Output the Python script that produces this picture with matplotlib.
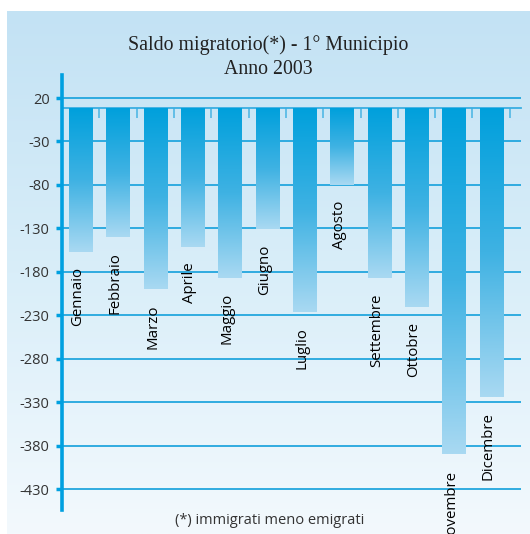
import numpy as np
import matplotlib
matplotlib.use("Agg")
import matplotlib.pyplot as plt
from matplotlib.colors import LinearSegmentedColormap

# ---- data ----
months = ["Gennaio", "Febbraio", "Marzo", "Aprile", "Maggio", "Giugno",
          "Luglio", "Agosto", "Settembre", "Ottobre", "Novembre", "Dicembre"]
values = [-157, -140, -200, -151, -187, -131, -226, -80, -187, -220, -390, -324]
yticks = [20, -30, -80, -130, -180, -230, -280, -330, -380, -430]
title = "Saldo migratorio(*) - 1° Municipio\nAnno 2003"
footnote = "(*) immigrati meno emigrati"
BASE = 8  # category-axis level where bars start

W, H = 530, 534
fig = plt.figure(figsize=(W / 100, H / 100), dpi=100)
fig.patch.set_facecolor("white")

# background panel with vertical gradient
bg = fig.add_axes([7 / W, 0, 1 - 7 / W, 523 / H], zorder=-2)
bg_cmap = LinearSegmentedColormap.from_list("bg", ["#c3e2f4", "#d9eef9", "#f3f9fd"])
bg.imshow(np.linspace(0, 1, 256).reshape(-1, 1), aspect="auto", cmap=bg_cmap,
          extent=(0, 1, 0, 1))
bg.axis("off")

ax = fig.add_axes([62 / W, 1 - 510 / H, (521 - 62) / W, (510 - 75) / H])
ax.patch.set_alpha(0)

ymin, ymax = -454, 46.5
ax.set_ylim(ymin, ymax)
ax.set_xlim(-0.5, 11.8)

x = np.arange(len(months))
heights = [v - BASE for v in values]
bars = ax.bar(x, heights, bottom=BASE, width=0.62, facecolor="none",
              edgecolor="none", zorder=3)

bar_cmap = LinearSegmentedColormap.from_list("bar", ["#00a0dc", "#3fb2e3", "#a9d9f2"])
grad = np.linspace(0, 1, 256).reshape(-1, 1)
for p in bars.patches:
    x0, y0 = p.get_x(), p.get_y()
    w, h = p.get_width(), p.get_height()
    top, bottom = max(y0, y0 + h), min(y0, y0 + h)
    im = ax.imshow(grad, aspect="auto", cmap=bar_cmap,
                   extent=(x0, x0 + w, bottom, top), origin="upper",
                   zorder=3, interpolation="bilinear")
    im.set_clip_path(p)
ax.set_xlim(-0.5, 11.8)
ax.set_ylim(ymin, ymax)

# month labels under bars
for xi, v, name in zip(x, values, months):
    ax.annotate(name, xy=(xi, v), xytext=(-2, -11), textcoords="offset points",
                rotation=90, ha="center", va="top", fontsize=10.8,
                fontfamily="Open Sans", color="black", zorder=4)

# y axis
ax.set_yticks(yticks)
ax.set_yticklabels([str(t) for t in yticks], fontfamily="Open Sans",
                   fontsize=10.5, color="#333333")
ax.tick_params(axis="y", direction="out", length=4, width=2.5,
               color="#00a0e0", pad=5)
ax.yaxis.grid(True, color="#22a6de", lw=1.3, zorder=1)
ax.set_axisbelow(True)

for s in ["top", "right"]:
    ax.spines[s].set_visible(False)
ax.spines["left"].set_color("#00a0e0")
ax.spines["left"].set_linewidth(2.6)
ax.spines["bottom"].set_position(("data", BASE))
ax.spines["bottom"].set_color("#3aaee2")
ax.spines["bottom"].set_linewidth(1.3)
ax.spines["bottom"].set_zorder(1)

ax.set_xticks(np.arange(0.5, 12, 1))
ax.set_xticklabels([])
ax.tick_params(axis="x", direction="out", length=7, width=1.3, color="#5bbbe6")

fig.text(268.5 / W, 1 - 57 / H, title, ha="center", va="center",
         fontfamily="Liberation Serif", fontsize=14.3, color="#222222",
         linespacing=1.3)
fig.text(270 / W, 1 - 520 / H, footnote, ha="center", va="center",
         fontfamily="Open Sans", fontsize=10.5, color="#333333")

fig.savefig("out.png", dpi=100)
